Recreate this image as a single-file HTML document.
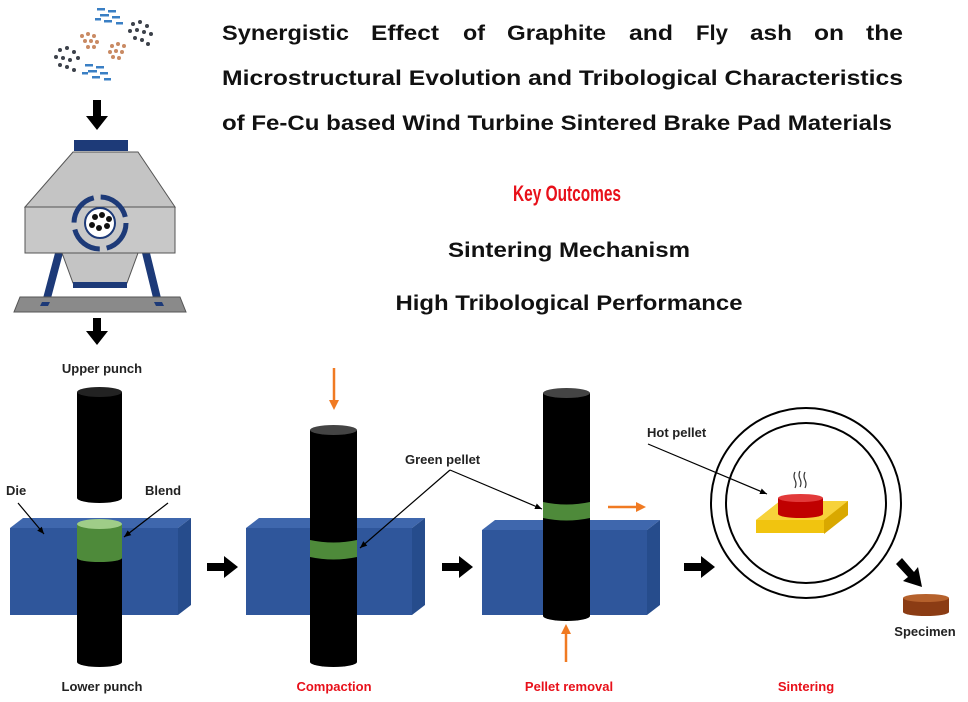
<!DOCTYPE html>
<html><head><meta charset="utf-8"><style>
html,body{margin:0;padding:0;background:#fff}
svg{display:block}
text{font-family:"Liberation Sans",sans-serif;font-weight:bold}
</style></head><body>
<svg width="968" height="702" viewBox="0 0 968 702" xmlns="http://www.w3.org/2000/svg">
<defs>
<marker id="ah" markerWidth="8" markerHeight="8" refX="7" refY="4" orient="auto" markerUnits="userSpaceOnUse"><path d="M0,1 L7,4 L0,7z" fill="#000"/></marker>
</defs>
<!-- Title -->
<g font-size="21" fill="#111" lengthAdjust="spacingAndGlyphs">
<text x="222" y="40" textLength="127" lengthAdjust="spacingAndGlyphs">Synergistic</text>
<text x="371" y="40" textLength="68" lengthAdjust="spacingAndGlyphs">Effect</text>
<text x="463" y="40" textLength="22" lengthAdjust="spacingAndGlyphs">of</text>
<text x="507" y="40" textLength="99" lengthAdjust="spacingAndGlyphs">Graphite</text>
<text x="629" y="40" textLength="44" lengthAdjust="spacingAndGlyphs">and</text>
<text x="696" y="40" textLength="32" lengthAdjust="spacingAndGlyphs">Fly</text>
<text x="750" y="40" textLength="42" lengthAdjust="spacingAndGlyphs">ash</text>
<text x="814" y="40" textLength="30" lengthAdjust="spacingAndGlyphs">on</text>
<text x="866" y="40" textLength="37" lengthAdjust="spacingAndGlyphs">the</text>
<text x="222" y="85" textLength="681" lengthAdjust="spacingAndGlyphs">Microstructural Evolution and Tribological Characteristics</text>
<text x="222" y="130" textLength="670" lengthAdjust="spacingAndGlyphs">of Fe-Cu based Wind Turbine Sintered Brake Pad Materials</text>
</g>
<text x="567" y="201" font-size="22" fill="#e8101a" text-anchor="middle" textLength="108" lengthAdjust="spacingAndGlyphs">Key Outcomes</text>
<text x="569" y="257" font-size="21" fill="#111" text-anchor="middle" textLength="242" lengthAdjust="spacingAndGlyphs">Sintering Mechanism</text>
<text x="569" y="310" font-size="21" fill="#111" text-anchor="middle" textLength="347" lengthAdjust="spacingAndGlyphs">High Tribological Performance</text>

<!-- powders -->
<g>
<g fill="#3a7fc4"><rect x="97" y="8" width="8" height="2.5"/><rect x="108" y="10" width="8" height="2.5"/><rect x="100" y="14" width="9" height="2.5"/><rect x="112" y="16" width="8" height="2.5"/><rect x="104" y="20" width="8" height="2.5"/><rect x="116" y="22" width="7" height="2.5"/><rect x="95" y="18" width="6" height="2.5"/>
<rect x="85" y="64" width="8" height="2.5"/><rect x="96" y="66" width="8" height="2.5"/><rect x="88" y="70" width="9" height="2.5"/><rect x="100" y="72" width="8" height="2.5"/><rect x="92" y="76" width="8" height="2.5"/><rect x="104" y="78" width="7" height="2.5"/><rect x="82" y="72" width="6" height="2.5"/></g>
<g fill="#c98a63"><circle cx="82" cy="36" r="2"/><circle cx="88" cy="34" r="2"/><circle cx="94" cy="36" r="2"/><circle cx="85" cy="41" r="2"/><circle cx="91" cy="41" r="2"/><circle cx="97" cy="42" r="2"/><circle cx="88" cy="47" r="2"/><circle cx="94" cy="47" r="2"/>
<circle cx="112" cy="46" r="2"/><circle cx="118" cy="44" r="2"/><circle cx="124" cy="46" r="2"/><circle cx="110" cy="52" r="2"/><circle cx="116" cy="51" r="2"/><circle cx="122" cy="52" r="2"/><circle cx="113" cy="57" r="2"/><circle cx="119" cy="58" r="2"/></g>
<g fill="#3c414a"><circle cx="133" cy="24" r="2"/><circle cx="140" cy="22" r="2"/><circle cx="147" cy="26" r="2"/><circle cx="130" cy="31" r="2"/><circle cx="137" cy="30" r="2"/><circle cx="144" cy="32" r="2"/><circle cx="151" cy="34" r="2"/><circle cx="135" cy="38" r="2"/><circle cx="142" cy="40" r="2"/><circle cx="148" cy="44" r="2"/>
<circle cx="60" cy="50" r="2"/><circle cx="67" cy="48" r="2"/><circle cx="74" cy="52" r="2"/><circle cx="56" cy="57" r="2"/><circle cx="63" cy="58" r="2"/><circle cx="70" cy="60" r="2"/><circle cx="78" cy="58" r="2"/><circle cx="60" cy="65" r="2"/><circle cx="67" cy="67" r="2"/><circle cx="74" cy="70" r="2"/></g>
</g>
<!-- down arrows -->
<path d="M93,100 h8 v16 h7 l-11,14 l-11,-14 h7z" fill="#000"/>
<path d="M93,318 h8 v13 h7 l-11,14 l-11,-14 h7z" fill="#000"/>

<!-- mill -->
<rect x="74" y="140" width="54" height="11" fill="#1d3a78"/>
<path d="M73,152 L138,152 L175,207 L25,207z" fill="#c4c4c4" stroke="#555" stroke-width="1"/>
<path d="M55,253 L42,302 L50,302 L63,253z M150,253 L162,302 L154,302 L142,253z" fill="#1d3a78"/>
<path d="M62,253 L138,253 L127,283 L73,283z" fill="#c4c4c4" stroke="#555" stroke-width="1"/>
<rect x="73" y="282" width="54" height="6" fill="#1d3a78"/>
<rect x="25" y="207" width="150" height="46" fill="#c8c8c8" stroke="#555" stroke-width="1"/>
<path d="M20,297 L180,297 L186,312 L14,312z" fill="#8a8a8a" stroke="#555"/>
<path d="M42,302 L50,302 L48,306 L40,306z M154,302 L162,302 L164,306 L156,306z" fill="#1d3a78"/>
<circle cx="100" cy="223" r="26" fill="none" stroke="#1d3a78" stroke-width="5" stroke-dasharray="34 7"/>
<circle cx="100" cy="223" r="15" fill="#fff" stroke="#1d3a78" stroke-width="2"/>
<g fill="#111"><circle cx="95" cy="217" r="3"/><circle cx="102" cy="215" r="3"/><circle cx="109" cy="219" r="3"/><circle cx="92" cy="225" r="3"/><circle cx="99" cy="228" r="3"/><circle cx="107" cy="226" r="3"/></g>

<!-- Stage 1 -->
<text x="102" y="373" font-size="13" fill="#222" text-anchor="middle">Upper punch</text>
<rect x="77" y="392" width="45" height="106" fill="#000"/>
<ellipse cx="99.5" cy="392" rx="22.5" ry="5" fill="#222"/>
<ellipse cx="99.5" cy="498" rx="22.5" ry="5" fill="#000"/>
<path d="M10,528 L23,518 L191,518 L178,528z" fill="#3f67ad"/>
<path d="M178,528 L191,518 L191,605 L178,615z" fill="#264c8c"/>
<rect x="10" y="528" width="168" height="87" fill="#2f569b"/>
<rect x="77" y="557" width="45" height="105" fill="#000"/>
<ellipse cx="99.5" cy="662" rx="22.5" ry="5" fill="#000"/>
<rect x="77" y="524" width="45" height="34" fill="#4e8a3a"/>
<ellipse cx="99.5" cy="558" rx="22.5" ry="4" fill="#4e8a3a"/>
<ellipse cx="99.5" cy="524" rx="22.5" ry="5" fill="#9fcd88"/>
<text x="6" y="495" font-size="13" fill="#222">Die</text>
<text x="145" y="495" font-size="13" fill="#222">Blend</text>
<line x1="18" y1="503" x2="44" y2="534" stroke="#000" stroke-width="1.2" marker-end="url(#ah)"/>
<line x1="168" y1="503" x2="124" y2="537" stroke="#000" stroke-width="1.2" marker-end="url(#ah)"/>
<text x="102" y="691" font-size="13" fill="#222" text-anchor="middle">Lower punch</text>

<path d="M207,563 h17 v-7 l14,11 l-14,11 v-7 h-17z" fill="#000"/>

<!-- Stage 2 -->
<path d="M334,368 v34" stroke="#f07a22" stroke-width="2.5"/><path d="M329,400 L334,410 L339,400z" fill="#f07a22"/>
<path d="M246,528 L259,518 L425,518 L412,528z" fill="#3f67ad"/>
<path d="M412,528 L425,518 L425,605 L412,615z" fill="#264c8c"/>
<rect x="246" y="528" width="166" height="87" fill="#2f569b"/>
<rect x="310" y="430" width="47" height="232" fill="#000"/>
<ellipse cx="333.5" cy="430" rx="23.5" ry="5" fill="#444"/>
<ellipse cx="333.5" cy="662" rx="23.5" ry="5" fill="#000"/>
<path d="M310,540 Q333.5,545 357,540 L357,557 Q333.5,562 310,557z" fill="#4e8a3a"/>
<text x="334" y="691" font-size="13" fill="#e8101a" text-anchor="middle">Compaction</text>

<text x="405" y="464" font-size="13" fill="#222">Green pellet</text>
<line x1="450" y1="470" x2="360" y2="548" stroke="#000" stroke-width="1.2" marker-end="url(#ah)"/>
<line x1="450" y1="470" x2="542" y2="509" stroke="#000" stroke-width="1.2" marker-end="url(#ah)"/>

<path d="M442,563 h17 v-7 l14,11 l-14,11 v-7 h-17z" fill="#000"/>

<!-- Stage 3 -->
<path d="M482,530 L495,520 L660,520 L647,530z" fill="#3f67ad"/>
<path d="M647,530 L660,520 L660,605 L647,615z" fill="#264c8c"/>
<rect x="482" y="530" width="165" height="85" fill="#2f569b"/>
<rect x="543" y="393" width="47" height="223" fill="#000"/>
<ellipse cx="566.5" cy="393" rx="23.5" ry="5" fill="#444"/>
<ellipse cx="566.5" cy="616" rx="23.5" ry="5" fill="#000"/>
<path d="M543,502 Q566.5,507 590,502 L590,518 Q566.5,523 543,518z" fill="#4e8a3a"/>
<path d="M608,507 h30" stroke="#f07a22" stroke-width="2.5"/><path d="M636,502 L646,507 L636,512z" fill="#f07a22"/>
<path d="M566,662 v-30" stroke="#f07a22" stroke-width="2.5"/><path d="M561,634 L566,624 L571,634z" fill="#f07a22"/>
<text x="569" y="691" font-size="13" fill="#e8101a" text-anchor="middle">Pellet removal</text>

<path d="M684,563 h17 v-7 l14,11 l-14,11 v-7 h-17z" fill="#000"/>

<!-- Stage 4 -->
<circle cx="806" cy="503" r="95" fill="none" stroke="#000" stroke-width="2"/>
<circle cx="806" cy="503" r="80" fill="none" stroke="#000" stroke-width="2"/>
<path d="M756,520 L780,501 L848,501 L848,515 L824,533 L756,533z" fill="#f1c40f"/>
<path d="M756,520 L824,520 L848,501 L780,501z" fill="#f7d23a"/>
<path d="M824,520 L848,501 L848,515 L824,534z" fill="#d9a800"/>
<rect x="778" y="498" width="45" height="16" fill="#c00000"/>
<ellipse cx="800.5" cy="514" rx="22.5" ry="4" fill="#c00000"/>
<ellipse cx="800.5" cy="498" rx="22.5" ry="4" fill="#e23a3a"/>
<g stroke="#333" stroke-width="1.2" fill="none"><path d="M795,472 q-2,4 0,8 q2,4 0,8"/><path d="M800,471 q-2,4 0,8 q2,4 0,8"/><path d="M805,472 q-2,4 0,8 q2,4 0,8"/></g>
<text x="647" y="437" font-size="13" fill="#222">Hot pellet</text>
<line x1="648" y1="444" x2="767" y2="494" stroke="#000" stroke-width="1.2" marker-end="url(#ah)"/>
<text x="806" y="691" font-size="13" fill="#e8101a" text-anchor="middle">Sintering</text>
<path d="M896,564 L902,558 L914,572 L918,567 L922,587 L903,581 L908,577z" fill="#000"/>
<rect x="903" y="598" width="46" height="14" fill="#8b3c14"/>
<ellipse cx="926" cy="612" rx="23" ry="4" fill="#8b3c14"/>
<ellipse cx="926" cy="598" rx="23" ry="4" fill="#b5612c"/>
<text x="925" y="636" font-size="13" fill="#222" text-anchor="middle">Specimen</text>
</svg>
</body></html>
